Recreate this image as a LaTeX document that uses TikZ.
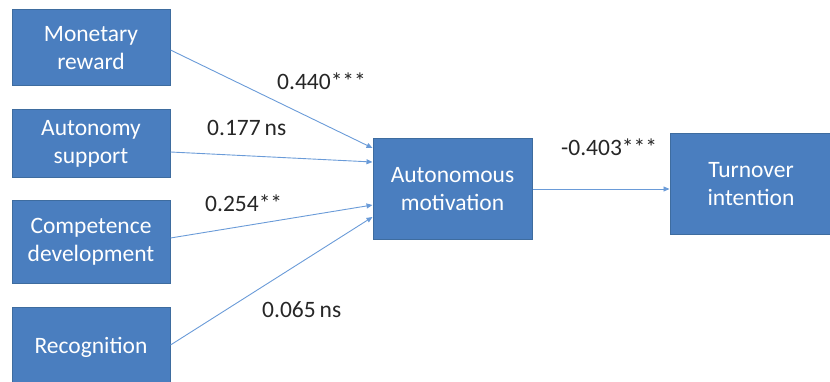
\documentclass[tikz,border=0pt]{standalone}
\usepackage{fontspec}
\setmainfont{Carlito}
\usetikzlibrary{arrows.meta}
\definecolor{boxfill}{HTML}{4A7EBF}
\definecolor{boxline}{HTML}{3E6C9F}
\definecolor{arrowc}{HTML}{6A9BD8}
\definecolor{labc}{HTML}{262626}
\tikzset{
  box/.style={draw=boxline, line width=1pt, fill=boxfill, text=white, align=center,
    font=\fontsize{23.5}{28}\selectfont, inner sep=0pt},
  conn/.style={draw=arrowc, line width=0.9pt, -{Triangle[length=6pt,width=5pt]}},
  lab/.style={text=labc, font=\fontsize{23.5}{26}\selectfont, inner sep=0pt, anchor=base west}
}
\begin{document}
\begin{tikzpicture}[x=1pt,y=-1pt]
\useasboundingbox (0,0) rectangle (830,382);
\node[box, minimum width=158pt, minimum height=76pt] (mon) at (91,48) {Monetary\\reward};
\node[box, minimum width=158pt, minimum height=68pt] (aut) at (91,144) {Autonomy\\support};
\node[box, minimum width=158pt, minimum height=82pt] (com) at (91,242) {Competence\\development};
\node[box, minimum width=158pt, minimum height=80pt] (rec) at (91,347) {Recognition};
\node[box, minimum width=159pt, minimum height=101pt] (am) at (452.5,189) {Autonomous\\motivation};
\node[box, minimum width=162pt, minimum height=101pt] (ti) at (751,184.5) {Turnover\\intention};
\coordinate (e1) at ([yshift=41pt]am.west);
\coordinate (e2) at ([yshift=27pt]am.west);
\coordinate (e3) at ([yshift=-16pt]am.west);
\coordinate (e4) at ([yshift=-28pt]am.west);
\draw[conn] ([yshift=-2pt]mon.east) -- (e1);
\draw[conn] ([yshift=-8pt]aut.east) -- (e2);
\draw[conn] ([yshift=4pt]com.east) -- (e3);
\draw[conn] ([yshift=2pt]rec.east) -- (e4);
\draw[conn] (am.east) -- (am.east -| ti.west);
\node[lab] (l1) at (277,90) {0.440***};
\node[lab] (l2) at (207,136) {0.177\,ns};
\node[lab] (l3) at (205,212) {0.254**};
\node[lab] (l4) at (262,317) {0.065\,ns};
\node[lab] (l5) at (561,156) {-0.403***};
\end{tikzpicture}
\end{document}
